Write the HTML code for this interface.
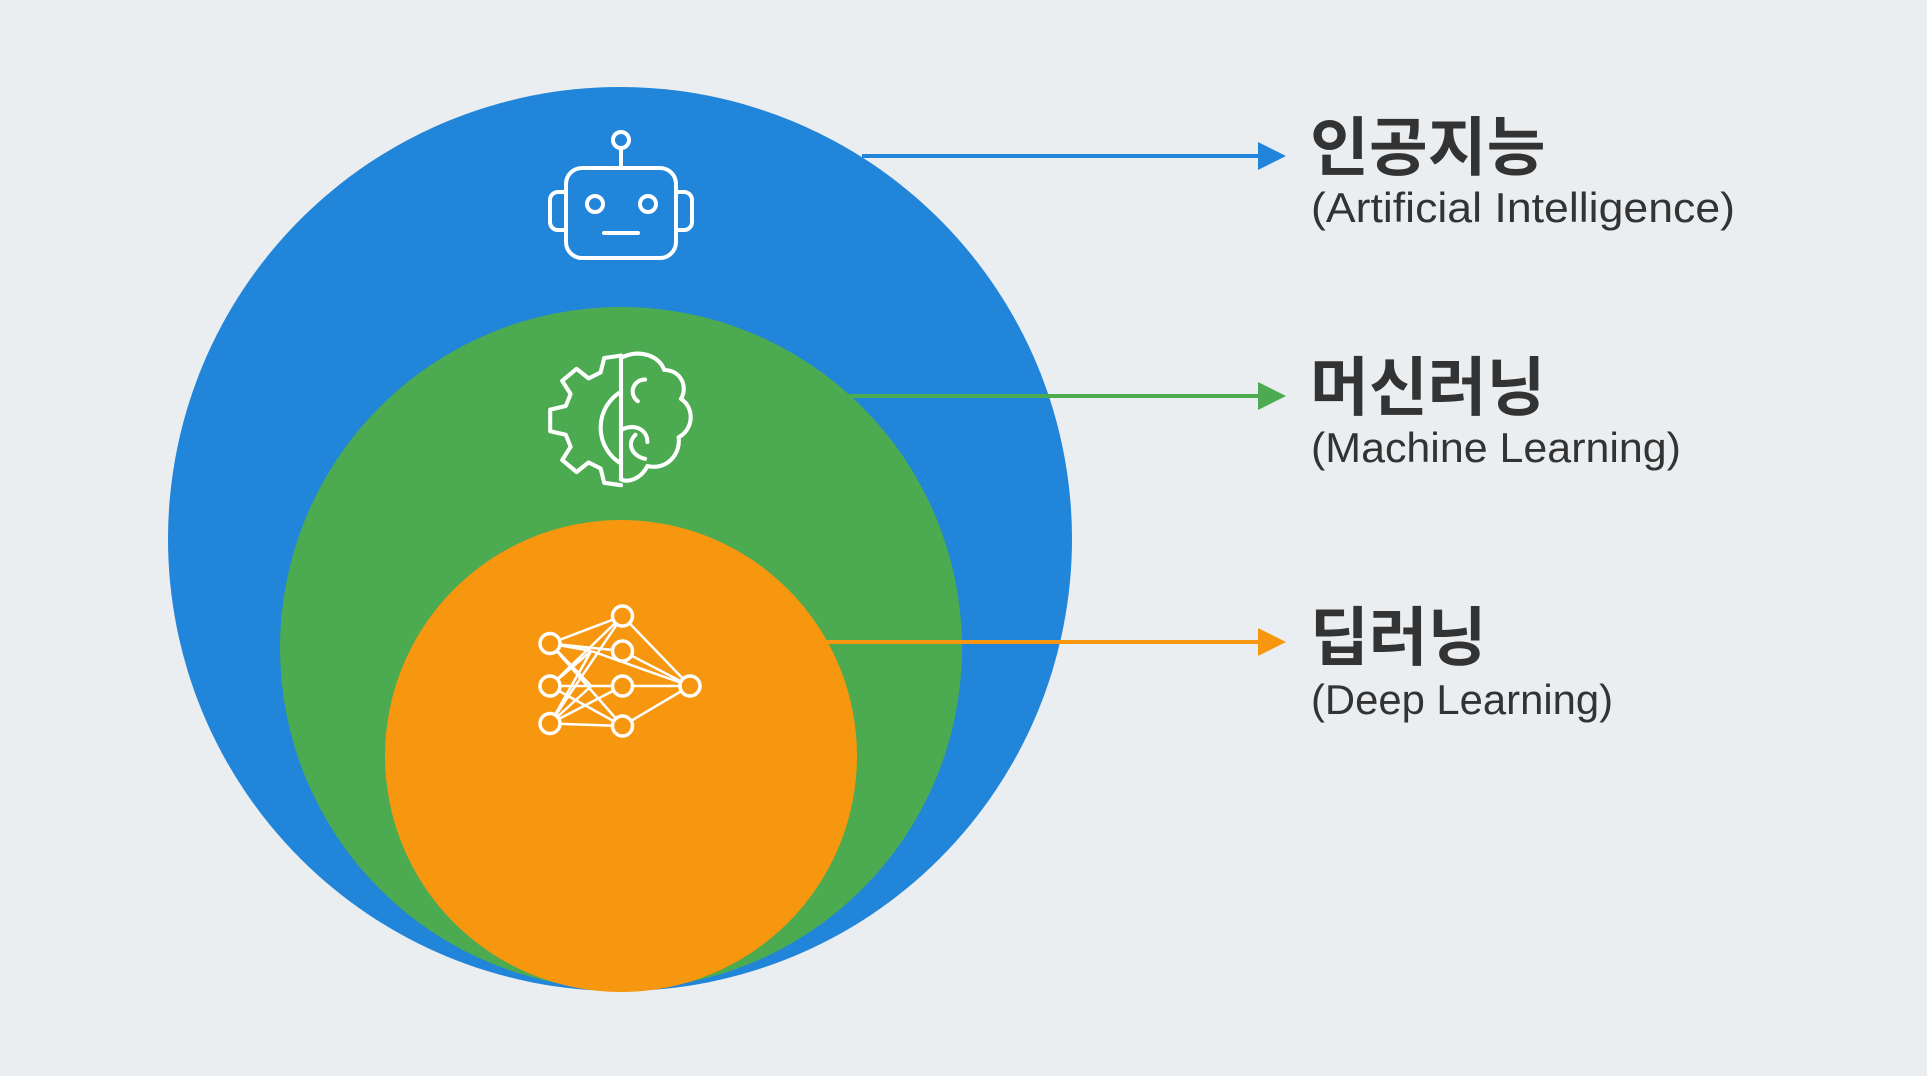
<!DOCTYPE html>
<html><head><meta charset="utf-8"><style>
html,body{margin:0;padding:0;background:#ebeef0;}
svg{display:block}
.k{font-family:"Liberation Sans","Noto Sans CJK KR","NanumGothic",sans-serif;font-weight:bold;fill:#333;font-size:64px}
.e{font-family:"Liberation Sans Narrow","Liberation Sans",sans-serif;fill:#333;font-size:42px}
</style></head><body>
<svg width="1927" height="1076" viewBox="0 0 1927 1076" xmlns="http://www.w3.org/2000/svg">
<rect width="1927" height="1076" fill="#ebeef0"/>
<circle cx="620" cy="539" r="452" fill="#2185d9"/>
<circle cx="621" cy="648" r="341" fill="#4cab50"/>
<circle cx="621" cy="756" r="236" fill="#f7960f"/>
<g stroke-width="4">
<line x1="862" y1="156" x2="1262" y2="156" stroke="#2185d9"/>
<line x1="848" y1="396" x2="1262" y2="396" stroke="#4cab50"/>
<line x1="826" y1="642" x2="1262" y2="642" stroke="#f7960f"/>
</g>
<polygon points="1258,142 1286,156 1258,170" fill="#2185d9"/>
<polygon points="1258,382 1286,396 1258,410" fill="#4cab50"/>
<polygon points="1258,628 1286,642 1258,656" fill="#f7960f"/>
<!-- robot -->
<g fill="none" stroke="#fff" stroke-width="4" stroke-linecap="round">
<circle cx="621" cy="140" r="8"/>
<line x1="621" y1="148" x2="621" y2="168"/>
<rect x="566" y="168" width="110" height="90" rx="16"/>
<path d="M566 192 h-8 a8 8 0 0 0 -8 8 v22 a8 8 0 0 0 8 8 h8"/>
<path d="M676 192 h8 a8 8 0 0 1 8 8 v22 a8 8 0 0 1 -8 8 h-8"/>
<circle cx="595" cy="204" r="8"/>
<circle cx="648" cy="204" r="8"/>
<line x1="604" y1="233" x2="638" y2="233"/>
</g>
<!-- gear/brain -->
<g transform="translate(621 418) scale(1.2) translate(-620 -362)" fill="none" stroke="#fff" stroke-width="3.4" stroke-linecap="round" stroke-linejoin="round">
<path d="M620 310 l-14 2 -3 12 -10 5 -10 -8 -12 10 7 11 -4 10 -13 3 v18 l13 3 4 10 -7 11 12 10 10 -8 10 5 3 12 14 2"/>
<path d="M620 340 a35 35 0 0 0 0 60"/>
<path d="M620 310 v103"/>
<path d="M620 312 c15 -8 32 -2 36 10 c14 0 20 14 14 24 c12 8 10 26 -2 32 c2 14 -10 28 -26 24 c-6 12 -18 14 -22 11"/>
<path d="M640 330 c-10 0 -14 12 -6 18 M620 372 c12 -6 22 0 22 10 M640 396 c-10 -2 -16 -12 -8 -20"/>
</g>
<!-- network -->
<g transform="translate(620 671) scale(1.25) translate(-619 -556)">
<g stroke="#fff" stroke-width="2" fill="none">
<path d="M563 534 L621 512 M563 534 L596 540 M563 534 L596 568 M563 534 L621 600 M563 568 L621 512 M563 568 L596 540 M563 568 L596 568 M563 568 L621 600 M563 598 L621 512 M563 598 L596 540 M563 598 L596 568 M563 598 L621 600 M621 512 L675 568 M621 600 L675 568 M596 540 L675 568 M596 568 L675 568 M563 534 L621 540 M563 598 L621 568 M621 540 L675 568 M621 568 L675 568"/>
</g>
<g stroke="#fff" stroke-width="2.8" fill="#f7960f">
<circle cx="563" cy="534" r="8"/><circle cx="563" cy="568" r="8"/><circle cx="563" cy="598" r="8"/>
<circle cx="621" cy="512" r="8"/><circle cx="621" cy="540" r="8"/><circle cx="621" cy="568" r="8"/><circle cx="621" cy="600" r="8"/>
<circle cx="675" cy="568" r="8"/>
</g>
</g>
<!-- labels -->
<text class="k" x="1310" y="170">인공지능</text>
<text class="e" x="1311" y="222" textLength="424" lengthAdjust="spacingAndGlyphs">(Artificial Intelligence)</text>
<text class="k" x="1310" y="410">머신러닝</text>
<text class="e" x="1311" y="462" textLength="370" lengthAdjust="spacingAndGlyphs">(Machine Learning)</text>
<text class="k" x="1310" y="660">딥러닝</text>
<text class="e" x="1311" y="714" textLength="302" lengthAdjust="spacingAndGlyphs">(Deep Learning)</text>
</svg>
</body></html>
